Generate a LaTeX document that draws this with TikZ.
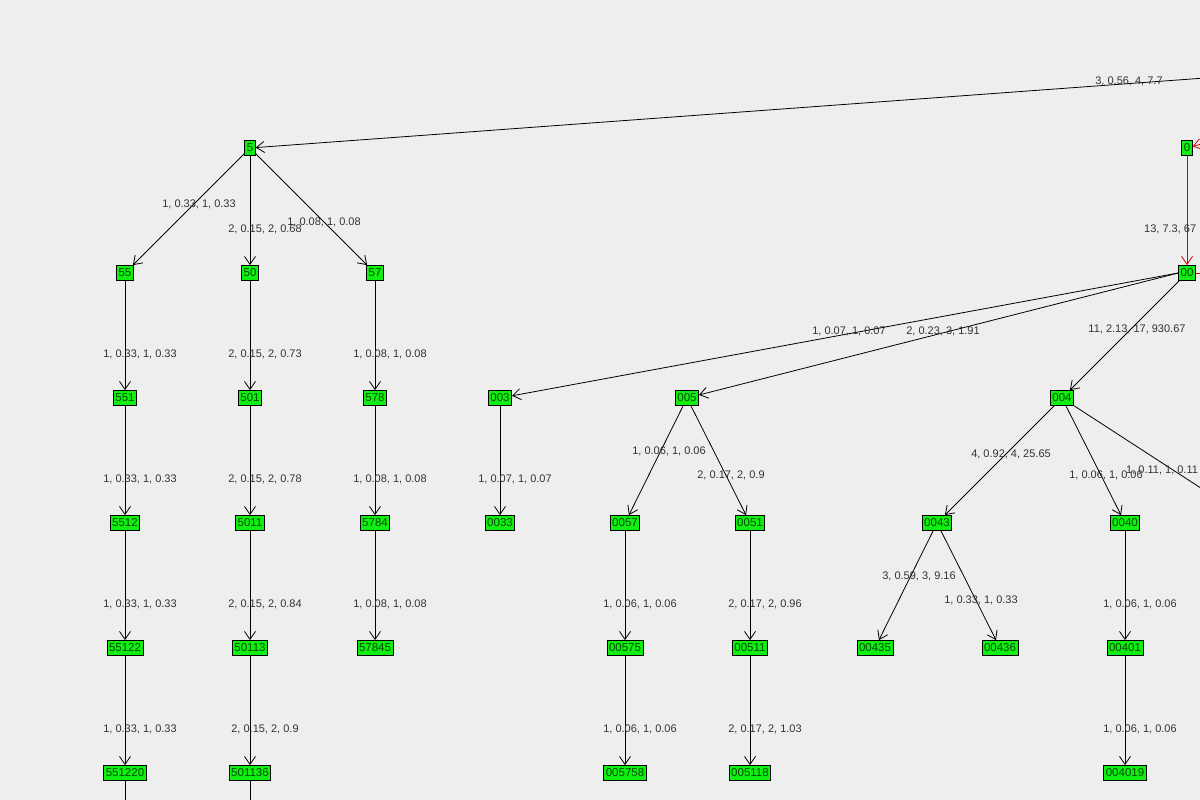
\documentclass[tikz,border=0pt]{standalone}
\usepackage{fontspec}
\setmainfont{Liberation Sans}
\usetikzlibrary{arrows.meta}
\definecolor{bg}{HTML}{EEEEEE}
\definecolor{ng}{HTML}{11EE11}
\definecolor{lab}{HTML}{333333}
\tikzset{
 nd/.style={draw=black,fill=ng,inner xsep=2pt,inner ysep=1.5pt,minimum height=15pt,font=\fontsize{11.5}{12}\selectfont,text=black!70!green,line width=0.8pt},
 ed/.style={draw=black,line width=0.8pt,-{Straight Barb[length=8pt,width=11pt]}},
 red/.style={draw=red!85!black,line width=0.8pt},
 lb/.style={font=\fontsize{11}{12}\selectfont,text=lab,inner sep=0pt}
}
\begin{document}
\begin{tikzpicture}[x=1pt,y=-1pt]
\clip (0,0) rectangle (1200,800);
\fill[bg] (0,0) rectangle (1200,800);
\coordinate (r1) at (1205,78);
\coordinate (r2) at (1205,143);
\coordinate (r3) at (1205,273);
\coordinate (r4) at (1210,494);
\coordinate (b1) at (125,805);
\coordinate (b2) at (250,805);
% nodes
\node[nd] (n5) at (250,148) {5};
\node[nd] (n0) at (1187,148) {0};
\node[nd] (n55) at (125,273) {55};
\node[nd] (n50) at (250,273) {50};
\node[nd] (n57) at (375,273) {57};
\node[nd] (n00) at (1187,273) {00};
\node[nd] (n551) at (125,398) {551};
\node[nd] (n501) at (250,398) {501};
\node[nd] (n578) at (375,398) {578};
\node[nd] (n003) at (500,398) {003};
\node[nd] (n005) at (687,398) {005};
\node[nd] (n004) at (1062,398) {004};
\node[nd] (n5512) at (125,523) {5512};
\node[nd] (n5011) at (250,523) {5011};
\node[nd] (n5784) at (375,523) {5784};
\node[nd] (n0033) at (500,523) {0033};
\node[nd] (n0057) at (625,523) {0057};
\node[nd] (n0051) at (750,523) {0051};
\node[nd] (n0043) at (937,523) {0043};
\node[nd] (n0040) at (1125,523) {0040};
\node[nd] (n55122) at (125,648) {55122};
\node[nd] (n50113) at (250,648) {50113};
\node[nd] (n57845) at (375,648) {57845};
\node[nd] (n00575) at (625,648) {00575};
\node[nd] (n00511) at (750,648) {00511};
\node[nd] (n00435) at (875,648) {00435};
\node[nd] (n00436) at (1000,648) {00436};
\node[nd] (n00401) at (1125,648) {00401};
\node[nd] (n551220) at (125,773) {551220};
\node[nd] (n501136) at (250,773) {501136};
\node[nd] (n005758) at (625,773) {005758};
\node[nd] (n005118) at (750,773) {005118};
\node[nd] (n004019) at (1125,773) {004019};
% edges
\draw[ed] (r1) -- (n5);
\draw[red,-{Straight Barb[length=8pt,width=11pt]}] (r2) -- (n0);
\draw[red,-{Straight Barb[length=8pt,width=11pt]}] (n0) -- (n00);
\draw[red] (n00) -- (r3);
\draw[ed] (n5) -- (n55);
\draw[ed] (n5) -- (n50);
\draw[ed] (n5) -- (n57);
\draw[ed] (n55) -- (n551);
\draw[ed] (n50) -- (n501);
\draw[ed] (n57) -- (n578);
\draw[ed] (n00.west) -- (n003);
\draw[ed] (n00.west) -- (n005);
\draw[ed] (n00) -- (n004);
\draw[ed] (n551) -- (n5512);
\draw[ed] (n501) -- (n5011);
\draw[ed] (n578) -- (n5784);
\draw[ed] (n003) -- (n0033);
\draw[ed] (n005) -- (n0057);
\draw[ed] (n005) -- (n0051);
\draw[ed] (n004) -- (n0043);
\draw[ed] (n004) -- (n0040);
\draw[draw=black,line width=0.8pt] (n004) -- (r4);
\draw[ed] (n5512) -- (n55122);
\draw[ed] (n5011) -- (n50113);
\draw[ed] (n5784) -- (n57845);
\draw[ed] (n0057) -- (n00575);
\draw[ed] (n0051) -- (n00511);
\draw[ed] (n0043) -- (n00435);
\draw[ed] (n0043) -- (n00436);
\draw[ed] (n0040) -- (n00401);
\draw[ed] (n55122) -- (n551220);
\draw[ed] (n50113) -- (n501136);
\draw[ed] (n00575) -- (n005758);
\draw[ed] (n00511) -- (n005118);
\draw[ed] (n00401) -- (n004019);
\draw[line width=0.8pt] (n551220) -- (b1);
\draw[line width=0.8pt] (n501136) -- (b2);
% labels
\node[lb] (l1) at (1129,81) {3, 0.56, 4, 7.7};
\node[lb,anchor=west] (l2) at (1144,229) {13, 7.3, 67};
\node[lb] (l3) at (199,204) {1, 0.33, 1, 0.33};
\node[lb] (l4) at (265,229) {2, 0.15, 2, 0.68};
\node[lb] (l5) at (324,222) {1, 0.08, 1, 0.08};
\node[lb] (l6) at (140,354) {1, 0.33, 1, 0.33};
\node[lb] (l7) at (265,354) {2, 0.15, 2, 0.73};
\node[lb] (l8) at (390,354) {1, 0.08, 1, 0.08};
\node[lb] (l9) at (849,331) {1, 0.07, 1, 0.07};
\node[lb] (l10) at (943,331) {2, 0.23, 3, 1.91};
\node[lb] (l11) at (1137,329) {11, 2.13, 17, 930.67};
\node[lb] (l12) at (140,479) {1, 0.33, 1, 0.33};
\node[lb] (l13) at (265,479) {2, 0.15, 2, 0.78};
\node[lb] (l14) at (390,479) {1, 0.08, 1, 0.08};
\node[lb] (l15) at (515,479) {1, 0.07, 1, 0.07};
\node[lb] (l16) at (669,451) {1, 0.06, 1, 0.06};
\node[lb] (l17) at (731,475) {2, 0.17, 2, 0.9};
\node[lb] (l18) at (1011,454) {4, 0.92, 4, 25.65};
\node[lb] (l19) at (1106,475) {1, 0.06, 1, 0.06};
\node[lb,anchor=west] (l20) at (1126,470) {1, 0.11, 1, 0.11};
\node[lb] (l21) at (140,604) {1, 0.33, 1, 0.33};
\node[lb] (l22) at (265,604) {2, 0.15, 2, 0.84};
\node[lb] (l23) at (390,604) {1, 0.08, 1, 0.08};
\node[lb] (l24) at (640,604) {1, 0.06, 1, 0.06};
\node[lb] (l25) at (765,604) {2, 0.17, 2, 0.96};
\node[lb] (l26) at (919,576) {3, 0.59, 3, 9.16};
\node[lb] (l27) at (981,600) {1, 0.33, 1, 0.33};
\node[lb] (l28) at (1140,604) {1, 0.06, 1, 0.06};
\node[lb] (l29) at (140,729) {1, 0.33, 1, 0.33};
\node[lb] (l30) at (265,729) {2, 0.15, 2, 0.9};
\node[lb] (l31) at (640,729) {1, 0.06, 1, 0.06};
\node[lb] (l32) at (765,729) {2, 0.17, 2, 1.03};
\node[lb] (l33) at (1140,729) {1, 0.06, 1, 0.06};
\end{tikzpicture}
\end{document}
